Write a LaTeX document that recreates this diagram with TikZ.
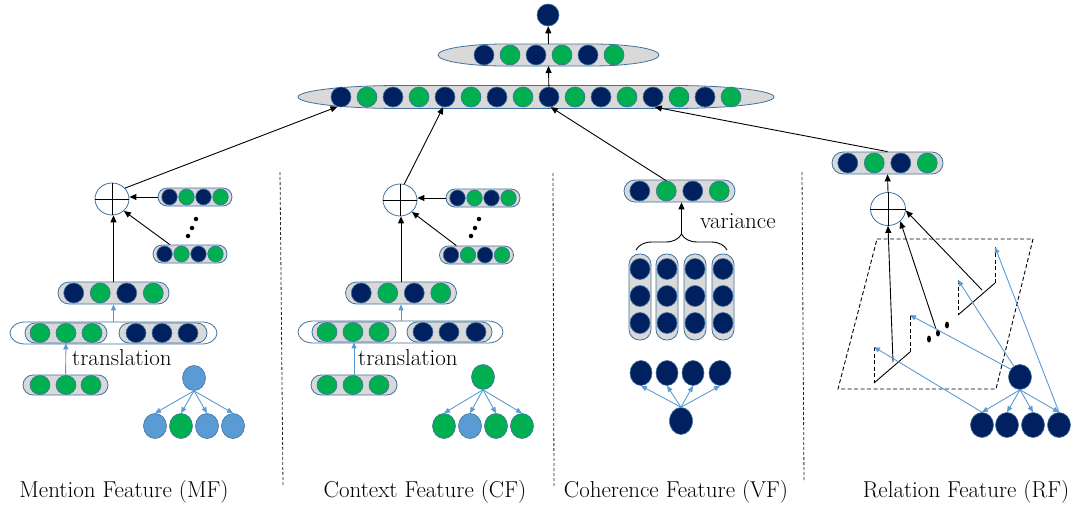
\documentclass[tikz,border=0pt]{standalone}
\usetikzlibrary{shapes.geometric,shapes.misc,arrows.meta,decorations.pathreplacing}
\definecolor{navy}{HTML}{002060}
\definecolor{grn}{HTML}{00B050}
\definecolor{bord}{HTML}{41719C}
\definecolor{lblue}{HTML}{5B9BD5}
\definecolor{capfill}{HTML}{D9D9D9}
\newcommand\ovalbar[6]{%
 \filldraw[draw=bord, fill=#6, line width=0.8pt]
  (#1,#3-#4) -- (#2,#3-#4)
  .. controls ({#2+0.5523*#5},#3-#4) and ({#2+#5},{#3-0.5523*#4}) .. ({#2+#5},#3)
  .. controls ({#2+#5},{#3+0.5523*#4}) and ({#2+0.5523*#5},#3+#4) .. (#2,#3+#4)
  -- (#1,#3+#4)
  .. controls ({#1-0.5523*#5},#3+#4) and ({#1-#5},{#3+0.5523*#4}) .. ({#1-#5},#3)
  .. controls ({#1-#5},{#3-0.5523*#4}) and ({#1-0.5523*#5},#3-#4) .. (#1,#3-#4) -- cycle;}
\begin{document}
\begin{tikzpicture}[x=1pt,y=-1pt,
  cell/.style={ellipse, draw=bord, line width=0.6pt, inner sep=0pt, minimum width=20pt, minimum height=20pt},
  nv/.style={cell, fill=navy}, gn/.style={cell, fill=grn}, lb/.style={cell, fill=lblue},
  sm/.style={minimum width=15.5pt, minimum height=16pt},
  trs/.style={minimum width=23pt, minimum height=25pt},
  capsule/.style={rounded rectangle, draw=bord, fill=capfill, line width=0.8pt, inner sep=0pt},
  vcap/.style={rectangle, rounded corners=10.5pt, draw=bord, fill=capfill, line width=0.8pt, inner sep=0pt, minimum width=22pt, minimum height=86pt},
  oplusn/.style={ellipse, draw=bord, fill=white, line width=0.8pt, inner sep=0pt, minimum width=34pt, minimum height=32pt},
  arr/.style={line width=0.9pt, -{Triangle[length=7pt,width=6pt]}},
  barr/.style={draw=lblue, line width=0.9pt, -{Triangle[length=6pt,width=5pt]}},
  divider/.style={line width=0.8pt, dash pattern=on 3pt off 2pt, black!85},
  dpat/.style={line width=0.9pt, dash pattern=on 4pt off 2.5pt},
  lbl/.style={font=\fontsize{23}{27}\selectfont, inner sep=0pt},
  dotn/.style={circle, fill=black, inner sep=0pt, minimum size=4.5pt},
  rdot/.style={ellipse, fill=black, inner sep=0pt, minimum width=4pt, minimum height=7pt}]
\useasboundingbox (0,0) rectangle (1073,506);

% ---------- top ----------
\ovalbar{400}{672}{97}{11.5}{102}{capfill}
\foreach \i/\s in {0/nv,1/gn,2/nv,3/gn,4/nv,5/gn,6/nv,7/gn,8/nv,9/gn,10/nv,11/gn,12/nv,13/gn,14/nv,15/gn}
  \node[\s] (bc\i) at ({341+26*\i},97) {};
\ovalbar{505}{592}{55}{11}{67}{capfill}
\foreach \i/\s in {0/nv,1/gn,2/nv,3/gn,4/nv,5/gn}
  \node[\s] (mc\i) at ({484+26*\i},55) {};
\node[nv, minimum width=22pt, minimum height=22pt] (out) at (548,15) {};
\coordinate (mbb) at (548.5,66);
\coordinate (mbt) at (548.5,44);
\draw[arr] (bc8) -- (mbb);
\draw[arr] (mbt) -- (out);

% ---------- dividers ----------
\draw[divider] (280,172) -- (283,485);
\draw[divider] (553,173) -- (554,487);
\draw[divider] (802,172) -- (804,482);

% ---------- MF ----------
\node[oplusn] (ox1) at (112,199) {};
\draw[line width=0.8pt] (ox1.west) -- (ox1.east) (ox1.north) -- (ox1.south);
\node[capsule, minimum width=74pt, minimum height=18pt] (mt1) at (195,197) {};
\foreach \i/\s/\dx in {1/nv/-25.5,2/gn/-8.5,3/nv/8.5,4/gn/25.5}
  \node[\s, sm] (mt1c\i) at ({195+\dx},197) {};
\node[dotn] (md1) at (196,219) {};
\node[dotn] (md2) at (192,228) {};
\node[dotn] (md3) at (188,236) {};
\node[capsule, minimum width=74pt, minimum height=18pt] (mb1) at (190,254) {};
\foreach \i/\s/\dx in {1/nv/-25.5,2/gn/-8.5,3/nv/8.5,4/gn/25.5}
  \node[\s, sm] (mb1c\i) at ({190+\dx},254) {};
\node[capsule, minimum width=111pt, minimum height=22pt] (v1) at (113.5,293) {};
\foreach \i/\s/\dx in {1/nv/-39.75,2/gn/-13.25,3/nv/13.25,4/gn/39.75}
  \node[\s] (v1c\i) at ({113.5+\dx},293) {};
\ovalbar{25}{202}{333}{11}{15}{white}
\coordinate (co1t) at (113.5,322);
\node[capsule, minimum width=82pt, minimum height=20pt] (cl1) at (66,333) {};
\foreach \i/\x in {1/40,2/66,3/92} \node[gn, minimum height=19pt] (cl1c\i) at (\x,333) {};
\node[capsule, minimum width=88pt, minimum height=20pt] (cr1) at (163,333) {};
\foreach \i/\x in {1/136,2/162,3/188} \node[nv, minimum height=19pt] (cr1c\i) at (\x,333) {};
\node[capsule, minimum width=85pt, minimum height=20pt] (b1) at (65.5,385) {};
\foreach \i/\x in {1/40,2/66,3/91} \node[gn, minimum height=19pt] (b1c\i) at (\x,385) {};
\node[lbl, anchor=base west] (tr1) at (72,365) {translation};
\node[lb, trs] (t1r) at (194,378) {};
\node[lb, trs] (t1c1) at (155,426) {};
\node[gn, trs] (t1c2) at (181,426) {};
\node[lb, trs] (t1c3) at (207,426) {};
\node[lb, trs] (t1c4) at (233,426) {};
\foreach \i in {1,...,4} \draw[barr] (t1r.south) -- (t1c\i.north);
\draw[barr] (b1) -- (cl1);
\draw[barr] (co1t) -- (v1);
\draw[arr] (v1.north) -- (v1.north |- ox1.south);
\draw[arr] (mt1.west) -- (mt1.west -| ox1.east);
\draw[arr] (mb1.155) -- (ox1.-45);
\draw[arr] (ox1.40) -- (bc0.-110);

% ---------- CF ----------
\node[oplusn] (ox2) at (400,200) {};
\draw[line width=0.8pt] (ox2.west) -- (ox2.east) (ox2.north) -- (ox2.south);
\node[capsule, minimum width=74pt, minimum height=18pt] (mt2) at (483,198) {};
\foreach \i/\s/\dx in {1/nv/-25.5,2/gn/-8.5,3/nv/8.5,4/gn/25.5}
  \node[\s, sm] (mt2c\i) at ({483+\dx},198) {};
\node[dotn] (cd1) at (479,219) {};
\node[dotn] (cd2) at (475,228) {};
\node[dotn] (cd3) at (471,236) {};
\node[capsule, minimum width=74pt, minimum height=18pt] (mb2) at (476.5,255) {};
\foreach \i/\s/\dx in {1/nv/-25.5,2/gn/-8.5,3/nv/8.5,4/gn/25.5}
  \node[\s, sm] (mb2c\i) at ({476.5+\dx},255) {};
\node[capsule, minimum width=111pt, minimum height=22pt] (v2) at (401,293) {};
\foreach \i/\s/\dx in {1/nv/-39.75,2/gn/-13.25,3/nv/13.25,4/gn/39.75}
  \node[\s] (v2c\i) at ({401+\dx},293) {};
\ovalbar{313}{488}{332}{11}{15}{white}
\coordinate (co2t) at (401,321);
\node[capsule, minimum width=84pt, minimum height=20pt] (cl2) at (354,332) {};
\foreach \i/\x in {1/327,2/353,3/379} \node[gn, minimum height=19pt] (cl2c\i) at (\x,332) {};
\node[capsule, minimum width=85pt, minimum height=20pt] (cr2) at (449.5,332) {};
\foreach \i/\x in {1/423,2/449,3/476} \node[nv, minimum height=19pt] (cr2c\i) at (\x,332) {};
\node[capsule, minimum width=86pt, minimum height=20pt] (b2) at (354,385) {};
\foreach \i/\x in {1/327,2/353,3/379} \node[gn, minimum height=19pt] (b2c\i) at (\x,385) {};
\node[lbl, anchor=base west] (tr2) at (358,365) {translation};
\node[gn, trs] (t2r) at (483,377) {};
\node[gn, trs] (t2c1) at (444,426) {};
\node[lb, trs] (t2c2) at (470,426) {};
\node[gn, trs] (t2c3) at (496,426) {};
\node[gn, trs] (t2c4) at (522,426) {};
\foreach \i in {1,...,4} \draw[barr] (t2r.south) -- (t2c\i.north);
\draw[barr] (b2) -- (cl2);
\draw[barr] (co2t) -- (v2);
\draw[arr] (v2.north) -- (v2.north |- ox2.south);
\draw[arr] (mt2.west) -- (mt2.west -| ox2.east);
\draw[arr] (mb2.155) -- (ox2.-45);
\draw[arr] (ox2.75) -- (bc4.-100);

% ---------- VF ----------
\node[capsule, minimum width=111pt, minimum height=22pt] (vt) at (679.5,191) {};
\foreach \i/\s/\dx in {1/nv/-39.75,2/gn/-13.25,3/nv/13.25,4/gn/39.75}
  \node[\s] (vt\i) at ({679.5+\dx},191) {};
\draw[decorate, decoration={brace, amplitude=16pt}, line width=0.9pt] (636,250) -- (727,250);
\coordinate (bt) at (681.5,234);
\draw[arr] (bt) -- (bt |- vt.south);
\node[lbl, anchor=base west] (var) at (700,228) {variance};
\foreach \i/\x in {1/640,2/667,3/695,4/723} {
  \node[vcap] (col\i) at (\x,297) {};
  \foreach \j/\y in {1/269,2/296,3/323} \node[nv, minimum height=21pt] (col\i-\j) at (\x,\y) {};
}
\foreach \i/\x in {1/641,2/667,3/693,4/720} \node[nv, minimum width=22pt, minimum height=25pt] (vb\i) at (\x,373) {};
\node[nv, minimum width=23pt, minimum height=27pt] (vr) at (681,421) {};
\foreach \i in {1,...,4} \draw[barr] (vr.north) -- (vb\i.south);
\draw[arr] (vt2.north) -- (bc8.-80);

% ---------- RF ----------
\node[capsule, minimum width=111pt, minimum height=22pt] (rtop) at (887.5,163) {};
\foreach \i/\s/\dx in {1/nv/-39.75,2/gn/-13.25,3/nv/13.25,4/gn/39.75}
  \node[\s] (rt\i) at ({887.5+\dx},163) {};
\node[oplusn, minimum width=35pt, minimum height=33pt] (ox4) at (888,209) {};
\draw[line width=0.8pt] (ox4.west) -- (ox4.east) (ox4.north) -- (ox4.south);
\draw[arr] (ox4.north) -- (rtop.south);
\draw[arr] (rtop.north) -- (bc12.-80);
\draw[dpat] (877,239) -- (1033,239) -- (996,389) -- (838,389) -- cycle;
\coordinate (s1a) at (874,347);
\coordinate (s1c) at (874,383);
\coordinate (s1d) at (910,352);
\coordinate (s1b) at (910,315);
\coordinate (s2a) at (958,280);
\coordinate (s2c) at (958,315);
\coordinate (s2d) at (995,283);
\coordinate (s2b) at (995,247);
\draw[dpat] (s1a) -- (s1c);
\draw[line width=0.9pt] (s1c) -- (s1d);
\draw[dpat] (s1d) -- (s1b);
\draw[dpat] (s2a) -- (s2c);
\draw[line width=0.9pt] (s2c) -- (s2d);
\draw[dpat] (s2d) -- (s2b);
\node[rdot] (rd1) at (929,339) {};
\node[rdot] (rd2) at (938,333) {};
\node[rdot] (rd3) at (947,325) {};
\coordinate (k1) at (893,362);
\coordinate (k2) at (936,329);
\coordinate (k3) at (982,290);
\draw[arr] (k1) -- (ox4.south);
\draw[arr] (k2) -- (ox4.-45);
\draw[arr] (k3) -- (ox4.-5);
\node[nv, trs] (rr) at (1020,377) {};
\foreach \i/\x in {1/982,2/1007,3/1033,4/1059} \node[nv, trs] (rc\i) at (\x,425) {};
\foreach \i in {1,...,4} \draw[barr] (rr.south) -- (rc\i.north);
\draw[barr] (rc1.north) -- (s1a);
\draw[barr] (rr.140) -- (s1b);
\draw[barr] (rr.120) -- (s2a);
\draw[barr] (rc4.north) -- (s2b);

% ---------- labels ----------
\node[lbl, anchor=base] (lmf) at (124,497) {Mention Feature (MF)};
\node[lbl, anchor=base] (lcf) at (425,497) {Context Feature (CF)};
\node[lbl, anchor=base] (lvf) at (676,497) {Coherence Feature (VF)};
\node[lbl, anchor=base] (lrf) at (966,497) {Relation Feature (RF)};
\end{tikzpicture}
\end{document}
